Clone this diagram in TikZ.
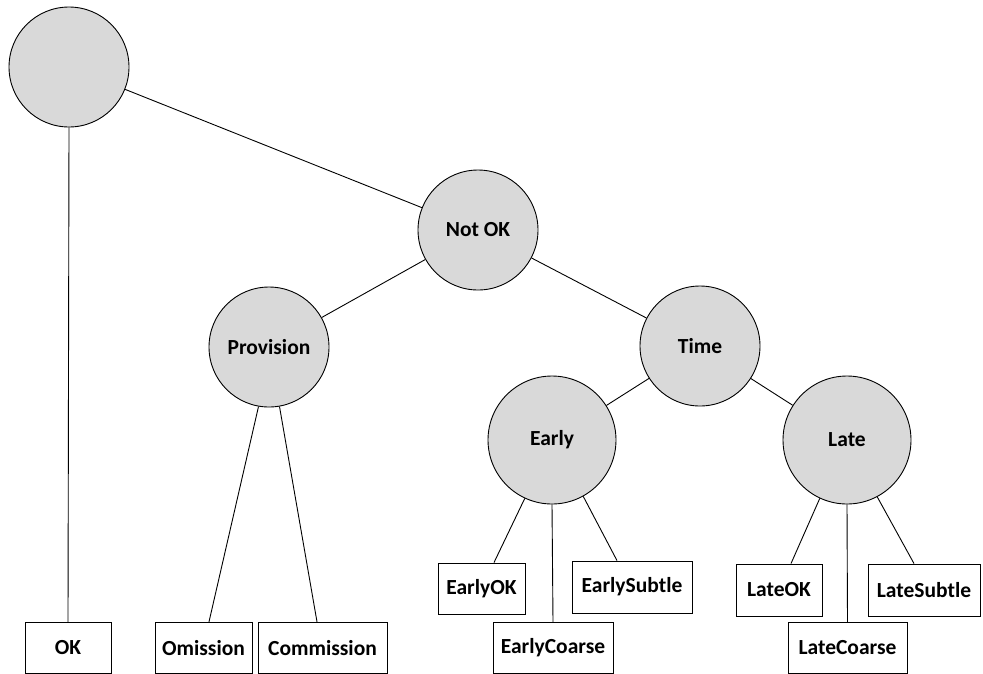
\documentclass[tikz,border=0pt]{standalone}
\usepackage{fontspec}
\setmainfont{Carlito}
\usetikzlibrary{calc}
\definecolor{nodegrey}{HTML}{D9D9D9}
\tikzset{
  state/.style={circle, draw=black, fill=nodegrey, line width=0.9pt, inner sep=0pt,
    minimum size=120pt, font=\fontsize{21.5}{25}\selectfont\bfseries},
  bigstate/.style={state, minimum size=128pt},
  leaf/.style={rectangle, draw=black, fill=white, line width=0.9pt, inner sep=0pt,
    minimum height=51pt, font=\fontsize{21.5}{25}\selectfont\bfseries},
  bottomleaf/.style={leaf, minimum height=51.5pt},
  edge/.style={draw=black, line width=0.9pt}
}
\begin{document}
\begin{tikzpicture}[x=1pt, y=-1pt]
\useasboundingbox (0,0) rectangle (983,673);

% inner states
\node[state] (root) at (69,67) {};
\node[state] (notok) at (478,230) {Not OK};
\node[state] (prov) at (269,347) {Provision};
\node[state] (time) at (700,346) {Time};
\node[bigstate] (early) at (552,440) {Early};
\node[bigstate] (late) at (847,440) {Late};

% leaves
\node[bottomleaf, minimum width=86pt] (ok) at (68,648) {OK};
\node[bottomleaf, minimum width=97pt] (om) at (203.5,648) {Omission};
\node[bottomleaf, minimum width=129pt] (com) at (322.5,648) {Commission};
\node[leaf, minimum width=87pt] (eok) at (481.5,588.5) {EarlyOK};
\node[leaf, minimum width=120pt, minimum height=52pt] (esub) at (632,587) {EarlySubtle};
\node[bottomleaf, minimum width=120pt] (eco) at (553,648) {EarlyCoarse};
\node[leaf, minimum width=86pt, minimum height=52pt] (lok) at (779,590) {LateOK};
\node[leaf, minimum width=112pt, minimum height=52pt] (lsub) at (924,590) {LateSubtle};
\node[bottomleaf, minimum width=119pt] (lco) at (847.5,648) {LateCoarse};

% connectors
\draw[edge] (root) -- (notok);
\draw[edge] (root.south) -- (ok.north);
\draw[edge] (notok) -- (prov);
\draw[edge] (notok) -- (time);
\draw[edge] (time) -- (early);
\draw[edge] (time) -- (late);
\draw[edge] (prov.-100) -- ([xshift=5.5pt]om.north);
\draw[edge] (prov.-80) -- ([xshift=-5.5pt]com.north);
\draw[edge] (early.-115) -- ([xshift=12.5pt]eok.north);
\draw[edge] (early.south) -- (eco.north);
\draw[edge] (early.-61) -- ([xshift=-15pt]esub.north);
\draw[edge] (late.-115) -- ([xshift=12pt]lok.north);
\draw[edge] (late.south) -- (lco.north);
\draw[edge] (late.-62) -- ([xshift=-10pt]lsub.north);
\end{tikzpicture}
\end{document}
